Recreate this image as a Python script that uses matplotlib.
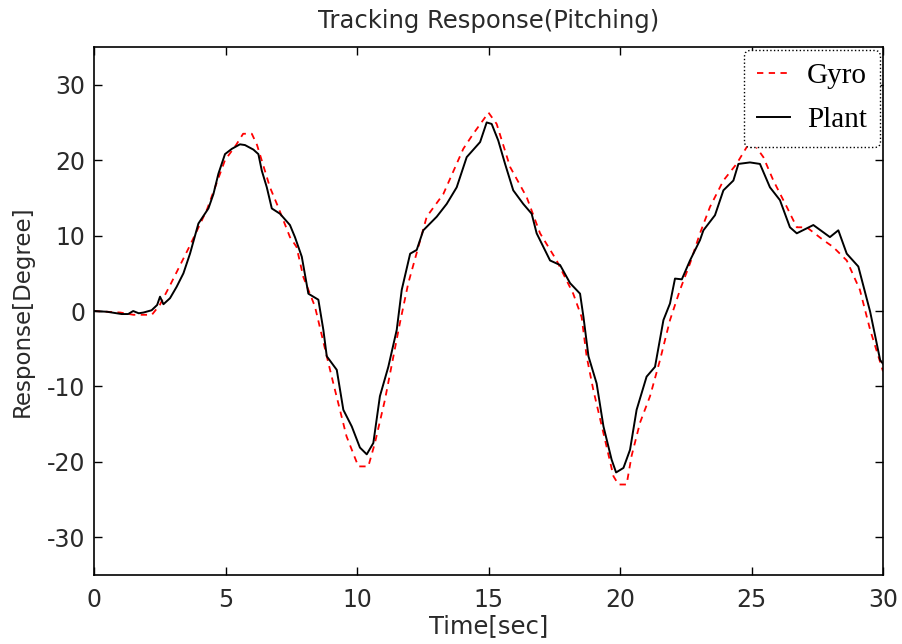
import matplotlib
matplotlib.use("Agg")
import matplotlib.pyplot as plt

plt.rcParams["axes.unicode_minus"] = False

t_plant = [0, 0.5, 1.05, 1.3, 1.49, 1.7, 1.88, 2.19, 2.4, 2.51, 2.64, 2.89, 3.14, 3.40, 3.65, 3.97,
           4.35, 4.54, 4.73, 4.98, 5.24, 5.55, 5.74, 6.06, 6.25, 6.38, 6.57, 6.76, 7.07, 7.45, 7.64,
           7.9, 8.15, 8.53, 8.72, 8.85, 9.23, 9.48, 9.80, 10.11, 10.37, 10.62, 10.87, 11.19, 11.51,
           11.70, 12.02, 12.27, 12.52, 13.03, 13.41, 13.79, 14.17, 14.68, 14.93, 15.12, 15.37, 15.63,
           15.94, 16.32, 16.64, 16.83, 17.34, 17.72, 18.10, 18.48, 18.61, 18.80, 19.11, 19.37, 19.68,
           19.85, 20.13, 20.38, 20.63, 21.01, 21.33, 21.65, 21.90, 22.09, 22.35, 22.66, 23.04, 23.17,
           23.61, 23.93, 24.31, 24.50, 24.94, 25.32, 25.70, 26.08, 26.46, 26.72, 27.35, 27.98, 28.30,
           28.62, 29.06, 29.51, 29.89, 30.0]
plant = [0, -0.1, -0.4, -0.4, 0.0, -0.3, -0.2, 0.1, 0.8, 1.9, 0.9, 1.7, 3.2, 5.0, 7.6, 11.6,
         13.6, 15.5, 18.2, 20.8, 21.5, 22.1, 22.0, 21.4, 20.8, 18.6, 16.4, 13.6, 12.9, 11.4, 9.8,
         7.2, 2.3, 1.5, -2.5, -6.0, -7.8, -13.1, -15.3, -18.1, -19.0, -17.5, -11.3, -7.4, -2.5,
         2.8, 7.6, 8.1, 10.7, 12.5, 14.2, 16.4, 20.4, 22.4, 25.0, 24.8, 22.6, 19.5,
         16.0, 14.2, 12.9, 10.3, 6.7, 6.1, 3.7, 2.3, -0.8, -6.0, -9.6, -15.3, -19.7,
         -21.4, -20.8, -18.4, -13.1, -8.7, -7.4, -1.2, 1.0, 4.3, 4.2, 6.7, 9.4, 10.7,
         12.7, 16.0, 17.3, 19.5, 19.7, 19.5, 16.4, 14.7, 11.1, 10.3, 11.4, 9.8, 10.7,
         7.6, 5.9, -0.1, -6.5, -7.0]

t_gyro = [0, 1.0, 1.5, 2.2, 2.5, 2.89, 3.65, 4.3, 4.98, 5.4, 5.67, 6.0, 6.2, 6.69, 7.0, 7.45, 7.7,
          7.96, 8.4, 8.85, 9.1, 9.6, 10.05, 10.43, 10.68, 11.06, 11.63, 11.95, 12.65, 13.28, 14.04,
          14.42, 15.0, 15.31, 15.82, 16.45, 16.96, 17.59, 18.22, 18.54, 18.73, 18.98, 19.37, 19.75,
          19.94, 20.25, 20.44, 20.76, 21.14, 21.52, 21.90, 22.28, 22.66, 23.04, 23.42, 23.93, 24.43,
          24.88, 25.1, 25.45, 25.83, 26.34, 26.72, 27.1, 27.73, 28.1, 28.62, 29.12, 29.51, 30.0]
gyro = [0, -0.2, -0.5, -0.5, 0.8, 3.4, 8.7, 13.5, 20.0, 22.0, 23.5, 23.5, 22.0, 16.4, 13.8, 9.8, 8.5,
        4.5, 0.6, -6.0, -9.6, -16.6, -20.6, -20.6, -17.5, -11.8, -1.6, 3.7, 12.5, 15.5, 21.5,
        23.5, 26.3, 24.8, 19.1, 15.1, 10.3, 6.7, 2.3, -0.8, -6.0, -10.4, -16.2, -21.9,
        -23.0, -23.0, -19.2, -14.8, -11.3, -6.5, -1.2, 2.8, 6.3, 10.3, 13.8, 17.3, 19.5,
        22.1, 22.1, 20.4, 17.3, 13.8, 11.1, 11.1, 9.4, 8.5, 6.7, 2.8, -2.5, -8.0]

x_ticks = [0, 5, 10, 15, 20, 25, 30]
y_ticks = [-30, -20, -10, 0, 10, 20, 30]

fig = plt.figure(figsize=(9.03, 6.44), dpi=100)
ax = fig.add_axes([0.1041, 0.1071, 0.8738, 0.8199])

sans = "DejaVu Sans"
txt = "#2a2a2a"
ax.plot(t_gyro, gyro, color="red", linestyle=(0, (3.5, 3)), linewidth=1.3, label="Gyro")
ax.plot(t_plant, plant, color="black", linewidth=1.4, label="Plant")

ax.set_xlim(0, 30)
ax.set_ylim(-35, 35)
ax.set_xticks(x_ticks)
ax.set_yticks(y_ticks)
ax.tick_params(direction="in", length=6, width=1, top=True, right=True,
               labelsize=17, pad=9, labelcolor=txt)
ax.tick_params(axis="y", pad=6)
for lab in ax.get_xticklabels() + ax.get_yticklabels():
    lab.set_fontfamily(sans)
for s in ax.spines.values():
    s.set_linewidth(1.2)

ax.set_title("Tracking Response(Pitching)", fontsize=17.5, family=sans, color=txt, pad=14)
ax.set_xlabel("Time[sec]", fontsize=17.5, family=sans, color=txt, labelpad=2)
ax.set_ylabel("Response[Degree]", fontsize=16.5, family=sans, color=txt, labelpad=10)

leg = ax.legend(loc="upper right", prop={"family": "Liberation Serif", "size": 21},
                frameon=True, fancybox=True, handlelength=1.1, handletextpad=0.6,
                borderaxespad=0.1, borderpad=0.45, labelspacing=0.6)
fr = leg.get_frame()
fr.set_edgecolor("black")
fr.set_linestyle(":")
fr.set_linewidth(1.0)
fr.set_alpha(1)

fig.savefig("out.png", dpi=100)
